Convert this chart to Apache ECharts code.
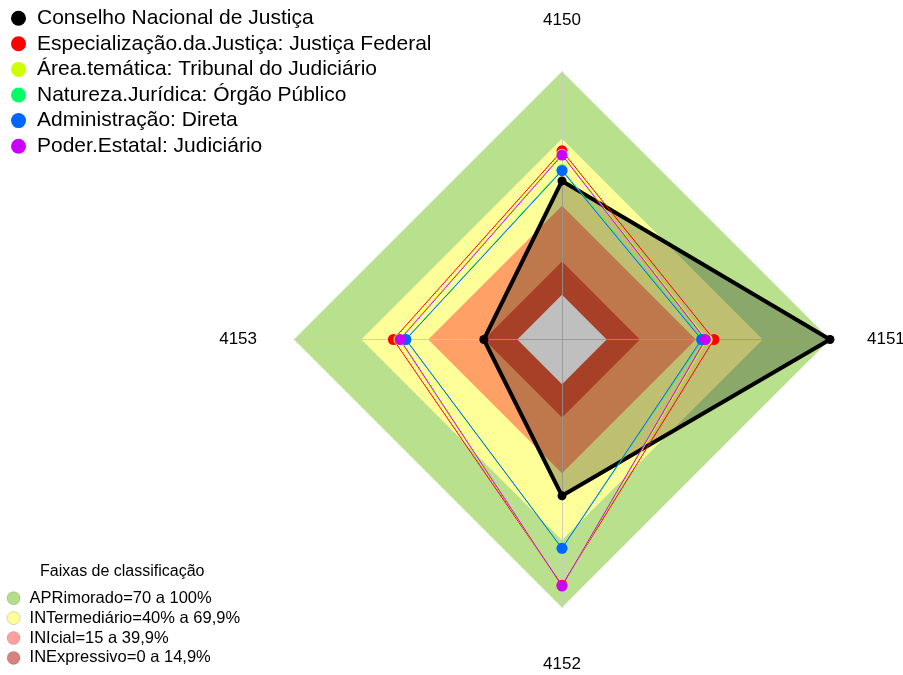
<!DOCTYPE html>
<html>
<head>
<meta charset="utf-8">
<script src="https://cdn.jsdelivr.net/npm/echarts@6/dist/echarts.min.js"></script>
<style>
html, body { margin: 0; padding: 0; background: #fff; }
#chart { width: 903px; height: 675px; }
</style>
</head>
<body>
<div id="chart"></div>
<script>
// eixos (sentido horário a partir do topo)
var axes = ['4150', '4151', '4152', '4153'];

var seriesNames = [
    'Conselho Nacional de Justiça',
    'Especialização.da.Justiça: Justiça Federal',
    'Área.temática: Tribunal do Judiciário',
    'Natureza.Jurídica: Órgão Público',
    'Administração: Direta',
    'Poder.Estatal: Judiciário'
];
var seriesColors = ['#000000', '#FF0000', '#CCFF00', '#00FF66', '#0066FF', '#CC00FF'];

// valores por eixo: 4150, 4151, 4152, 4153
var conselho = [0.51, 1.00, 0.50, 0.15];
var especializacao = [0.645, 0.48, 0.90, 0.555];
var areaTematica = [0.63, 0.45, 0.905, 0.53];
var natureza = [0.56, 0.43, 0.735, 0.50];
var administracao = [0.556, 0.425, 0.735, 0.499];
var poder = [0.626, 0.442, 0.904, 0.525];
var allValues = [conselho, especializacao, areaTematica, natureza, administracao, poder];

// faixas de classificação (a última é o centro vazio)
var bandNames = ['APRimorado=70 a 100%', 'INTermediário=40% a 69,9%', 'INIcial=15 a 39,9%', 'INExpressivo=0 a 14,9%'];
var bandLimits = [1, 0.699, 0.399, 0.149, 0];
var bandFill = ['#B9E08C', '#FFFF99', '#FFA066', '#E05535', '#FFFFFF'];
var bandLegend = ['#B5DE8A', '#FFFF99', '#FFA0A0', '#D98080'];

var font = 'Liberation Sans, Arial, sans-serif';

// o radar do echarts gira no sentido anti-horário
function reorder(a) { return [a[0], a[3], a[2], a[1]]; }

var myChart = echarts.init(document.getElementById('chart'));

var series = [];
bandLimits.forEach(function (v, i) {
    series.push({
        name: bandNames[i] || 'centro',
        type: 'radar',
        z: 1,
        silent: true,
        symbol: 'none',
        itemStyle: { color: bandFill[i] },
        lineStyle: { width: 0 },
        areaStyle: { color: bandFill[i], opacity: 1 },
        data: [{ value: [v, v, v, v] }]
    });
});
allValues.forEach(function (vals, i) {
    var black = i === 0;
    series.push({
        name: seriesNames[i],
        type: 'radar',
        z: 5,
        symbol: 'circle',
        symbolSize: black ? 9 : 11,
        itemStyle: { color: seriesColors[i], borderWidth: 0 },
        lineStyle: { color: seriesColors[i], width: black ? 4 : 1, opacity: 1 },
        areaStyle: black ? { color: 'rgba(0,0,0,0.25)', opacity: 1 } : null,
        data: [{ value: reorder(vals) }]
    });
});

var option = {
    animation: false,
    title: {
        text: 'Faixas de classificação',
        left: 40,
        top: 564,
        padding: 0,
        textStyle: { fontSize: 16, fontWeight: 'normal', color: '#000', fontFamily: font }
    },
    legend: [{
        data: seriesNames,
        orient: 'vertical',
        left: 11,
        top: 7.7,
        padding: 0,
        icon: 'circle',
        itemWidth: 27,
        itemHeight: 15,
        itemGap: 4.6,
        selectedMode: false,
        itemStyle: { borderWidth: 0 },
        textStyle: { fontSize: 21, lineHeight: 20, color: '#000', fontFamily: font }
    }, {
        data: bandNames.map(function (n, i) {
            return { name: n, itemStyle: { color: bandLegend[i], borderColor: 'rgba(0,0,0,0.15)', borderWidth: 1 } };
        }),
        orient: 'vertical',
        left: 6.6,
        top: 589.7,
        height: 85,
        padding: 0,
        icon: 'circle',
        itemWidth: 22,
        itemHeight: 13,
        itemGap: 2.9,
        selectedMode: false,
        textStyle: { fontSize: 16.5, lineHeight: 15, color: '#000', fontFamily: font }
    }],
    radar: {
        center: [562, 339.5],
        radius: 268,
        startAngle: 90,
        shape: 'polygon',
        splitNumber: 1,
        z: 3,
        indicator: reorder(axes).map(function (n) { return { name: n, min: -0.2, max: 1 }; }),
        nameGap: 37,
        axisName: {
            color: '#000',
            fontSize: 17,
            fontFamily: font,
            formatter: function (name) {
                if (name === '4150') return '{t|' + name + '}';
                if (name === '4152') return '{b|' + name + '}';
                return name;
            },
            rich: {
                t: { padding: [0, 0, 6, 0], fontSize: 17, fontFamily: font, color: '#000' },
                b: { padding: [11, 0, 0, 0], fontSize: 17, fontFamily: font, color: '#000' }
            }
        },
        axisLine: { lineStyle: { color: 'rgba(200,200,200,0.85)', width: 1 } },
        splitLine: { show: false },
        splitArea: { show: false },
        axisTick: { show: false },
        axisLabel: { show: false }
    },
    series: series
};

myChart.setOption(option);
</script>
</body>
</html>
